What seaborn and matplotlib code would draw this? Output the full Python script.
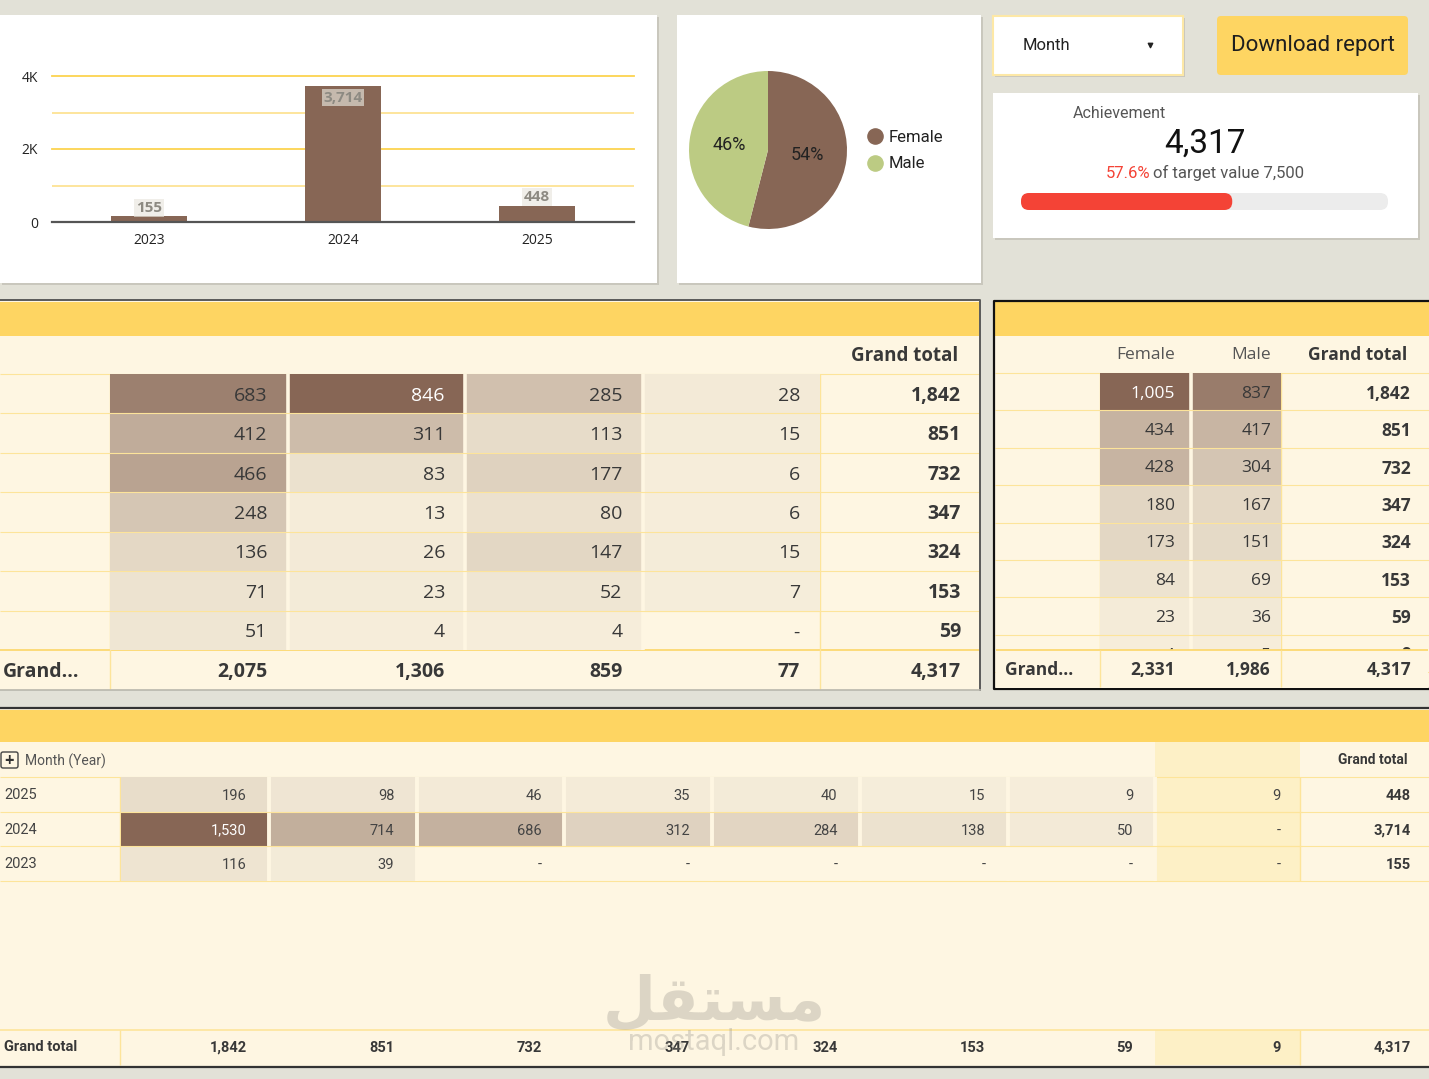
import numpy as np
import matplotlib
matplotlib.use("Agg")
import matplotlib.pyplot as plt
from matplotlib.patches import Rectangle, FancyBboxPatch
from matplotlib.colors import LinearSegmentedColormap
import seaborn as sns

plt.rcParams['font.family'] = ['Open Sans', 'DejaVu Sans']

# ---- data ----
bottom_years = ['2025', '2024', '2023']
bottom_year_totals = [448, 3714, 155]
bottom_values = [[196, 98, 46, 35, 40, 15, 9, 9],
                 [1530, 714, 686, 312, 284, 138, 50, None],
                 [116, 39, None, None, None, None, None, None]]
bottom_col_totals = [1842, 851, 732, 347, 324, 153, 59, 9]

gender_labels = ['Female', 'Male']
gender_totals = [2331, 1986]

achieved = 4317
target_value = 7500

mid_values = [[683, 846, 285, 28],
              [412, 311, 113, 15],
              [466, 83, 177, 6],
              [248, 13, 80, 6],
              [136, 26, 147, 15],
              [71, 23, 52, 7],
              [51, 4, 4, None]]
mid_row_totals = [1842, 851, 732, 347, 324, 153, 59]
mid_col_totals = [2075, 1306, 859, 77]

right_female = [1005, 434, 428, 180, 173, 84, 23, 4]
right_male = [837, 417, 304, 167, 151, 69, 36, 5]
right_totals = [1842, 851, 732, 347, 324, 153, 59, 9]

grand_total = 4317

# ---- colours ----
PAGE = '#e2e1d7'
BROWN = '#876655'
GREEN = '#bccb83'
YELLOW = '#fed562'
CREAM = '#fef6e2'
LINE = '#fde49a'
TXT = '#383838'
cmap = LinearSegmentedColormap.from_list('browns', ['#f6eedb', BROWN])

W, H = 1429, 1079
fig = plt.figure(figsize=(W / 100, H / 100), dpi=100)
fig.patch.set_facecolor(PAGE)


def box(x0, y0, x1, y1):
    return [x0 / W, 1 - y1 / H, (x1 - x0) / W, (y1 - y0) / H]


def pix_axes(z):
    a = fig.add_axes([0, 0, 1, 1], zorder=z)
    a.set_xlim(0, W)
    a.set_ylim(H, 0)
    a.axis('off')
    return a


bg = pix_axes(0)
top = pix_axes(5)


def rect(ax, x0, y0, x1, y1, fc, ec='none', lw=0, z=1):
    ax.add_patch(Rectangle((x0, y0), x1 - x0, y1 - y0, facecolor=fc,
                           edgecolor=ec, linewidth=lw, zorder=z))


def panel(x0, y0, x1, y1, fc='white'):
    rect(bg, x0 + 2, y0 + 2, x1 + 2, y1 + 2, '#c9c7bd', z=0.5)
    rect(bg, x0, y0, x1, y1, fc)


DY = 2  # Open Sans sits a little high when centred

# ---- bar chart panel ----
panel(0, 15, 657, 283)
ax_bar = fig.add_axes(box(52, 76, 634, 222), zorder=1)
sns.barplot(x=bottom_years[::-1], y=bottom_year_totals[::-1], color=BROWN,
            saturation=1, width=0.39, ax=ax_bar, zorder=2)
ax_bar.set_facecolor('none')
ax_bar.set_ylim(0, 4000)
ax_bar.set_xlim(-0.5, 2.5)
for g in [1000, 3000]:
    ax_bar.axhline(g, color='#fde394', lw=1.3, zorder=0.5)
for g in [2000, 4000]:
    ax_bar.axhline(g, color='#fcd34f', lw=1.3, zorder=0.5, clip_on=False)
for s in ['top', 'right', 'left']:
    ax_bar.spines[s].set_visible(False)
ax_bar.spines['bottom'].set_color('#555555')
ax_bar.spines['bottom'].set_linewidth(1.6)
ax_bar.set_yticks([0, 2000, 4000], ['0', '2K', '4K'])
ax_bar.tick_params(axis='y', length=0, pad=10, labelsize=10, labelcolor='#222222')
ax_bar.tick_params(axis='x', length=0, pad=8, labelsize=10, labelcolor='#222222')
ax_bar.set_xlabel('')
ax_bar.set_ylabel('')
for p, v in zip(ax_bar.patches, bottom_year_totals[::-1]):
    cx = p.get_x() + p.get_width() / 2
    inside = v > 2000
    ax_bar.annotate(f"{v:,}", (cx, p.get_height()), xytext=(0, -3 if inside else 1),
                    textcoords='offset points', ha='center',
                    va='top' if inside else 'bottom', fontsize=11, fontweight='bold',
                    color='#8d8a82', zorder=3,
                    bbox=dict(boxstyle='square,pad=0.12', fc='#e8e6de', ec='none', alpha=0.65))

# ---- pie panel ----
panel(677, 15, 981, 283)
ax_pie = fig.add_axes(box(689, 71, 847, 229), zorder=1)
ax_pie.pie(gender_totals, colors=[BROWN, GREEN], startangle=90, counterclock=False,
           autopct=lambda p: f"{p:.0f}%", pctdistance=0.5,
           textprops=dict(fontsize=13, color='#222222', family='Roboto'),
           wedgeprops=dict(linewidth=0))
ax_pie.set_xlim(-1, 1)
ax_pie.set_ylim(-1, 1)
for i, (lab, col) in enumerate(zip(gender_labels, [BROWN, GREEN])):
    y = 136 + i * 27
    bg.scatter([875], [y], s=120, color=col, zorder=3)
    bg.text(889, y + 1, lab, fontsize=12, va='center', color='#222222', family='Roboto', zorder=3)

# ---- dropdown + button ----
panel(993, 16, 1183, 75)
rect(bg, 993, 16, 1183, 75, 'white', ec='#fde8a6', lw=1.5, z=2)
bg.text(1023, 46, 'Month', fontsize=12, va='center', color='#222222', family='Roboto', zorder=3)
bg.scatter([1150], [45], marker='v', s=10, color='#222222', zorder=3)
bg.add_patch(FancyBboxPatch((1217, 16), 191, 59, boxstyle='round,pad=0,rounding_size=4',
                            fc=YELLOW, ec='none', zorder=2))
bg.text(1313, 46, 'Download report', fontsize=16, ha='center', va='center',
        color='#1e1e1e', family='Roboto', zorder=3)

# ---- achievement card ----
panel(993, 93, 1418, 238)
bg.text(1073, 113, 'Achievement', fontsize=11.5, va='center', color='#555555', family='Roboto', zorder=3)
bg.text(1205, 144, f"{achieved:,}", fontsize=24, ha='center', va='center',
        color='#111111', family='Roboto', zorder=3)
bg.text(1150, 173, f"{achieved / target_value * 100:.1f}%", fontsize=12, ha='right',
        va='center', color='#f44336', family='Roboto', zorder=3)
bg.text(1153, 173, f"of target value {target_value:,}", fontsize=12, ha='left',
        va='center', color='#555555', family='Roboto', zorder=3)
bar_w = 367
bg.add_patch(FancyBboxPatch((1021, 193), bar_w, 17, boxstyle='round,pad=0,rounding_size=8',
                            fc='#ececec', ec='none', zorder=2))
bg.add_patch(FancyBboxPatch((1021, 193), bar_w * achieved / target_value, 17,
                            boxstyle='round,pad=0,rounding_size=8',
                            fc='#f44336', ec='none', zorder=3))

# ---- middle matrix ----
rect(bg, 0, 300, 980, 690, CREAM)
bg.plot([0, 980, 980], [300, 300, 690], color='#5a5a5a', lw=1.4, zorder=3)
bg.plot([0, 980], [690, 690], color='#b9b7ad', lw=1.2, zorder=3)
rect(bg, 0, 302, 979, 336, YELLOW, z=2)
bg.text(958, 354 + DY, 'Grand total', fontsize=13.5, fontweight='bold', ha='right',
        va='center', color=TXT, zorder=3)

m_x0, m_x1, m_y0, m_y1 = 110, 820, 374, 650
m_rh = (m_y1 - m_y0) / len(mid_values)
m_cw = (m_x1 - m_x0) / len(mid_values[0])
for i in range(len(mid_values) + 1):
    bg.hlines(m_y0 + i * m_rh, 0, 979, color=LINE if i < len(mid_values) else '#fcd970',
              lw=0.8 if i < len(mid_values) else 1.3, zorder=2)
bg.vlines([m_x0, m_x1], m_y0, 689, color=LINE, lw=1, zorder=2)

mid_arr = np.array([[np.nan if v is None else v for v in r] for r in mid_values], dtype=float)
mvmax = np.nanmax(mid_arr)
ax_mid = fig.add_axes(box(m_x0, m_y0, m_x1, m_y1), zorder=1)
sns.heatmap(mid_arr, ax=ax_mid, cmap=cmap, vmin=0, vmax=mvmax, cbar=False,
            xticklabels=False, yticklabels=False)
ax_mid.set_facecolor('none')
for j in range(1, mid_arr.shape[1]):
    ax_mid.axvline(j, color=CREAM, lw=2.6)
for i in range(1, mid_arr.shape[0]):
    ax_mid.axhline(i, color=LINE, lw=0.8)
pad = 20 / m_cw
for i, r in enumerate(mid_values):
    for j, v in enumerate(r):
        s = '-' if v is None else f"{v:,}"
        c = 'white' if v is not None and v >= 0.9 * mvmax else TXT
        ax_mid.text(j + 1 - pad, i + 0.5 + DY / m_rh, s, ha='right', va='center',
                    fontsize=14, color=c)
    bg.text(961, m_y0 + (i + 0.5) * m_rh + DY, f"{mid_row_totals[i]:,}", ha='right',
            va='center', fontsize=14, fontweight='bold', color=TXT, zorder=3)
gy = 670 + DY
bg.text(3, gy, 'Grand...', ha='left', va='center', fontsize=14, fontweight='bold', color=TXT, zorder=3)
for j, v in enumerate(mid_col_totals):
    bg.text(m_x0 + (j + 1) * m_cw - 20, gy, f"{v:,}", ha='right', va='center',
            fontsize=14, fontweight='bold', color=TXT, zorder=3)
bg.text(961, gy, f"{grand_total:,}", ha='right', va='center', fontsize=14,
        fontweight='bold', color=TXT, zorder=3)

# ---- right matrix (gender) ----
rect(bg, 993, 300, 1429, 690, CREAM)
rect(bg, 995, 302, 1429, 336, YELLOW, z=2)
bg.plot([1429, 994, 994, 1429], [301, 301, 689, 689], color='#111111', lw=1.6, zorder=4)
bg.text(1175, 353 + DY, 'Female', fontsize=12.5, ha='right', va='center', color='#555555', zorder=3)
bg.text(1271, 353 + DY, 'Male', fontsize=12.5, ha='right', va='center', color='#555555', zorder=3)
bg.text(1407, 353 + DY, 'Grand total', fontsize=12.5, fontweight='bold', ha='right',
        va='center', color=TXT, zorder=3)

r_x0, r_x1, r_y0 = 1100, 1281, 373
r_rh = 37.4
r_y1 = r_y0 + r_rh * len(right_female)
for i in range(len(right_female) + 1):
    bg.hlines(r_y0 + i * r_rh, 995, 1429, color=LINE, lw=0.8, zorder=2)
bg.vlines([r_x0, r_x1], r_y0, 688, color=LINE, lw=1, zorder=2)
r_arr = np.array([right_female, right_male], dtype=float).T
rvmax = r_arr.max()
ax_r = fig.add_axes(box(r_x0, r_y0, r_x1, r_y1), zorder=1)
sns.heatmap(r_arr, ax=ax_r, cmap=cmap, vmin=0, vmax=rvmax, cbar=False,
            xticklabels=False, yticklabels=False)
ax_r.set_facecolor('none')
ax_r.axvline(1, color=CREAM, lw=2.6)
for i in range(1, r_arr.shape[0]):
    ax_r.axhline(i, color=LINE, lw=0.8)
r_pads = [0.17, 0.11]
for i in range(r_arr.shape[0]):
    for j in range(2):
        v = int(r_arr[i, j])
        c = 'white' if v >= 0.9 * rvmax else TXT
        ax_r.text(j + 1 - r_pads[j], i + 0.5 + DY / r_rh, f"{v:,}", ha='right', va='center',
                  fontsize=12.5, color=c)
    bg.text(1411, r_y0 + (i + 0.5) * r_rh + DY, f"{right_totals[i]:,}", ha='right',
            va='center', fontsize=12.5, fontweight='bold', color=TXT, zorder=3)
# grand row drawn over the partly hidden last row
rect(top, 996, 650, 1428, 687.5, CREAM)
top.hlines(650, 996, 1428, color='#fcd970', lw=1.3)
top.vlines([r_x0, r_x1], 650, 687, color=LINE, lw=1)
top.text(1005, 668 + DY, 'Grand...', ha='left', va='center', fontsize=12.5,
         fontweight='bold', color=TXT)
for j, v in enumerate(gender_totals):
    top.text(r_x0 + (j + 1 - r_pads[j]) * (r_x1 - r_x0) / 2, 668 + DY, f"{v:,}",
             ha='right', va='center', fontsize=12.5, fontweight='bold', color=TXT)
top.text(1411, 668 + DY, f"{grand_total:,}", ha='right', va='center', fontsize=12.5,
         fontweight='bold', color=TXT)

# ---- bottom matrix (year x column) ----
rect(bg, 0, 707, 1429, 1068, CREAM)
bg.hlines(708, 0, 1429, color='#333333', lw=1.6, zorder=3)
bg.hlines(1067, 0, 1429, color='#333333', lw=1.6, zorder=3)
rect(bg, 0, 710, 1429, 742, YELLOW, z=2)
b_x0, b_x1, b_y0 = 121, 1303, 777
b_rh = 34.7
b_cw = (b_x1 - b_x0) / len(bottom_values[0])
b_y1 = b_y0 + b_rh * len(bottom_values)
hl = len(bottom_values[0]) - 1
hx0, hx1 = b_x0 + hl * b_cw, b_x0 + (hl + 1) * b_cw - 3
rect(bg, hx0, 742, hx1, b_y1, '#fdf0c6', z=1.5)
rect(bg, hx0, 1030, hx1, 1065, '#fdf0c6', z=1.5)
bg.add_patch(FancyBboxPatch((1, 752), 17, 16, boxstyle='round,pad=0,rounding_size=2',
                            fc='none', ec='#444444', lw=1, zorder=3))
bg.text(9.5, 760.5, '+', fontsize=12, ha='center', va='center', color='#333333',
        fontweight='bold', zorder=3)
bg.text(25, 761, 'Month (Year)', fontsize=10, va='center', color='#555555', family='Roboto', zorder=3)
bg.text(1408, 760, 'Grand total', fontsize=10, fontweight='bold', ha='right', va='center',
        color=TXT, family='Roboto', zorder=3)
for i in range(len(bottom_values) + 1):
    bg.hlines(b_y0 + i * b_rh, 0, 1429, color=LINE, lw=0.8, zorder=2)
bg.hlines([1030], 0, 1429, color=LINE, lw=1.2, zorder=2)
bg.vlines([120, 1300], b_y0, b_y1, color=LINE, lw=1, zorder=2)
bg.vlines([120, 1300], 1030, 1065, color=LINE, lw=1, zorder=2)

b_arr = np.array([[np.nan if v is None else v for v in r] for r in bottom_values], dtype=float)
bvmax = np.nanmax(b_arr)
b_mask = np.zeros_like(b_arr, dtype=bool)
b_mask[:, hl] = True
ax_b = fig.add_axes(box(b_x0, b_y0, b_x1, b_y1), zorder=1)
sns.heatmap(b_arr, ax=ax_b, mask=b_mask, cmap=cmap, vmin=0, vmax=bvmax, cbar=False,
            xticklabels=False, yticklabels=False)
ax_b.set_facecolor('none')
for j in range(1, b_arr.shape[1]):
    ax_b.axvline(j, color=CREAM, lw=2.8)
for i in range(1, b_arr.shape[0]):
    ax_b.axhline(i, color=LINE, lw=0.8)
b_pad = 0.15
for i, r in enumerate(bottom_values):
    yc = b_y0 + (i + 0.5) * b_rh + 1.5
    bg.text(4, yc - 1, bottom_years[i], fontsize=10.5, va='center', color='#444444',
            family='Roboto', zorder=3)
    for j, v in enumerate(r):
        s = '-' if v is None else f"{v:,}"
        c = 'white' if v is not None and v >= 0.9 * bvmax else '#444444'
        ax_b.text(j + 1 - b_pad, i + 0.5 + 1.5 / b_rh, s, ha='right', va='center',
                  fontsize=10.5, color=c, family='Roboto')
    bg.text(1411, yc, f"{bottom_year_totals[i]:,}", ha='right', va='center', fontsize=10.5,
            fontweight='bold', color=TXT, family='Roboto', zorder=3)
bg.text(4, 1047, 'Grand total', fontsize=10.5, fontweight='bold', va='center', color=TXT,
        family='Roboto', zorder=3)
for j, v in enumerate(bottom_col_totals):
    bg.text(b_x0 + (j + 1 - b_pad) * b_cw, 1048, f"{v:,}", ha='right', va='center',
            fontsize=10.5, fontweight='bold', color=TXT, family='Roboto', zorder=3)
bg.text(1411, 1048, f"{grand_total:,}", ha='right', va='center', fontsize=10.5,
        fontweight='bold', color=TXT, family='Roboto', zorder=3)

# ---- watermark ----
top.text(714, 1003, '\uFEDE\uFED8\uFE98\uFEB4\uFEE3', fontsize=44, fontweight='bold',
         ha='center', va='center', color='#8f8b84', alpha=0.3, family='DejaVu Sans')
top.text(714, 1042, 'mostaql.com', fontsize=21, ha='center', va='center',
         color='#8f8b84', alpha=0.3, family='Roboto')

plt.savefig('out.png', dpi=100)
